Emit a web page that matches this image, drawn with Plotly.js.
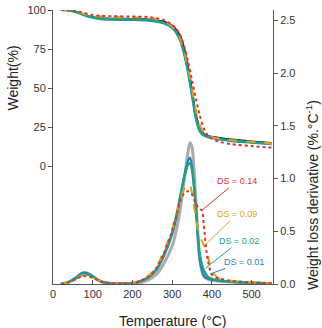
<!DOCTYPE html>
<html>
<head>
<meta charset="utf-8">
<script src="https://cdn.plot.ly/plotly-3.0.1.min.js"></script>
<style>
  html, body { margin: 0; padding: 0; background: #fff; }
  #chart { width: 322px; height: 328px; }
</style>
</head>
<body>
<div id="chart"></div>
<script>
// Thermogravimetric curves (weight %, left axis)
const tgaTemp = [20, 40, 60, 80, 100, 120, 150, 200, 240, 260, 280, 300, 310, 320, 330, 340, 350, 360, 370, 380, 390, 400, 420, 450, 500, 550];
const tgaNative = [100, 99.8, 98.7, 97, 95.5, 94.8, 94.5, 94.3, 94, 93.5, 92.5, 90, 87.5, 83.5, 76, 64, 49, 33, 24, 20.5, 19.3, 18.8, 18, 17, 15.8, 14.8];
const tgaDS001 = [100, 99.8, 98.5, 96.5, 95, 94.2, 93.8, 93.6, 93.2, 92.5, 91.3, 88.5, 85.5, 80.5, 72, 60, 45, 30, 22, 19.5, 18.5, 18, 17, 16, 15, 14];
const tgaDS002 = [100, 99.8, 98.6, 96.7, 95.2, 94.5, 94.2, 94, 93.6, 93, 91.8, 89, 86, 81.5, 73, 61, 46, 31, 23, 20, 19, 18.5, 17.5, 16.5, 15.3, 14.3];
const tgaDS009 = [100, 99.9, 99, 97.5, 96.3, 95.8, 95.5, 95.3, 95, 94.2, 92.8, 89.5, 86.5, 82, 74, 63, 50, 36, 26, 21.5, 19.5, 18.5, 17.5, 16.5, 15.5, 14.5];
const tgaDS014 = [100, 99.9, 99.2, 98, 96.8, 96.2, 96, 95.8, 95.5, 94.8, 93.5, 90.5, 88, 84, 77, 67, 55, 43, 32, 24, 19.5, 17.5, 15.5, 14, 12.8, 11.8];

// Derivative curves (%/°C, right axis)
const dtgTemp = [20, 40, 60, 70, 80, 90, 100, 120, 140, 160, 200, 220, 240, 260, 280, 300, 310, 320, 330, 340, 345, 350, 360, 370, 380, 390, 400, 420, 450, 500, 550];
const dtgNative = [0, 0.02, 0.06, 0.085, 0.095, 0.09, 0.07, 0.025, 0.008, 0.003, 0.005, 0.015, 0.04, 0.09, 0.2, 0.36, 0.5, 0.7, 0.97, 1.25, 1.34, 1.3, 0.78, 0.22, 0.07, 0.045, 0.035, 0.025, 0.018, 0.01, 0.005];
const dtgDS001 = [0, 0.02, 0.07, 0.1, 0.11, 0.1, 0.075, 0.025, 0.008, 0.003, 0.008, 0.025, 0.06, 0.13, 0.27, 0.47, 0.62, 0.82, 1.02, 1.17, 1.2, 1.12, 0.7, 0.22, 0.08, 0.05, 0.04, 0.03, 0.02, 0.012, 0.006];
const dtgDS002 = [0, 0.02, 0.06, 0.085, 0.095, 0.09, 0.07, 0.025, 0.008, 0.003, 0.008, 0.028, 0.065, 0.14, 0.29, 0.49, 0.64, 0.83, 1.0, 1.13, 1.15, 1.08, 0.72, 0.28, 0.13, 0.07, 0.05, 0.035, 0.022, 0.013, 0.006];
const dtgDS009 = [0, 0.018, 0.055, 0.075, 0.085, 0.08, 0.065, 0.025, 0.008, 0.003, 0.01, 0.03, 0.075, 0.16, 0.32, 0.52, 0.66, 0.8, 0.9, 0.95, 0.94, 0.86, 0.62, 0.45, 0.37, 0.27, 0.12, 0.05, 0.03, 0.015, 0.007];
const dtgDS014Temp = [20, 40, 60, 70, 80, 90, 100, 120, 140, 160, 200, 220, 240, 260, 280, 300, 310, 320, 330, 340, 350, 360, 370, 375, 380, 390, 400, 410, 420, 450, 500, 550];
const dtgDS014 = [0, 0.015, 0.05, 0.068, 0.075, 0.07, 0.06, 0.022, 0.008, 0.003, 0.01, 0.03, 0.07, 0.15, 0.3, 0.5, 0.64, 0.78, 0.86, 0.88, 0.85, 0.76, 0.71, 0.7, 0.55, 0.22, 0.09, 0.06, 0.05, 0.03, 0.015, 0.007];

// Sample labels and where their leader lines land on the derivative curves
const dsLabels = ['DS = 0.14', 'DS = 0.09', 'DS = 0.02', 'DS = 0.01'];
const dsPointT = [375, 383, 384, 395];
const dsPointV = [0.70, 0.37, 0.15, 0.095];

const colors = {
  native: '#ababab', nativeTga: '#1b1b1b',
  ds001: '#2a7fc6', ds002: '#1da47c', ds009: '#d6a42a', ds014: '#e2312c'
};

function line(x, y, color, width, dash, axis) {
  return {
    x: x, y: y, type: 'scatter', mode: 'lines', yaxis: axis,
    line: { color: color, width: width, dash: dash, shape: 'spline', smoothing: 0.8 },
    hoverinfo: 'skip', showlegend: false
  };
}

const traces = [
  line(tgaTemp, tgaNative, colors.nativeTga, 1.8, 'solid', 'y'),
  line(tgaTemp, tgaDS001, colors.ds001, 2.2, 'solid', 'y'),
  line(tgaTemp, tgaDS002, colors.ds002, 2.2, 'solid', 'y'),
  line(tgaTemp, tgaDS009, colors.ds009, 2, 'dash', 'y'),
  line(tgaTemp, tgaDS014, colors.ds014, 2, 'dot', 'y'),
  line(dtgTemp, dtgNative, colors.native, 3, 'solid', 'y2'),
  line(dtgTemp, dtgDS001, colors.ds001, 2.2, 'solid', 'y2'),
  line(dtgTemp, dtgDS002, colors.ds002, 2.2, 'solid', 'y2'),
  line(dtgTemp, dtgDS009, colors.ds009, 2, 'dash', 'y2'),
  line(dtgDS014Temp, dtgDS014, colors.ds014, 2, 'dot', 'y2')
];

const labelColors = [colors.ds014, colors.ds009, colors.ds002, colors.ds001];
const labelOffsets = [[35, -29], [32, -31], [34, -27], [34, -12]];

const annotations = dsLabels.map((t, i) => ({
  text: t, x: dsPointT[i], y: dsPointV[i], xref: 'x', yref: 'y2',
  showarrow: true, arrowhead: 0, arrowwidth: 1, arrowcolor: labelColors[i],
  ax: labelOffsets[i][0], ay: labelOffsets[i][1],
  font: { family: 'Liberation Sans, Arial, sans-serif', size: 9, color: labelColors[i] }
}));

const titleFont = { family: 'Liberation Sans, Arial, sans-serif', size: 14, color: '#222' };
annotations.push(
  { text: 'Weight(%)', xref: 'paper', yref: 'paper', x: 0, y: 0.75, xshift: -41,
    textangle: -90, showarrow: false, font: titleFont, xanchor: 'center', yanchor: 'middle' },
  { text: 'Weight loss derivative (%.°C<sup>-1</sup>)', xref: 'paper', yref: 'paper', x: 1, y: 0.325, xshift: 39,
    textangle: -90, showarrow: false, font: titleFont, xanchor: 'center', yanchor: 'middle' },
  { text: 'Temperature (°C)', xref: 'paper', yref: 'paper', x: 0.545, y: 0, yshift: -37,
    showarrow: false, font: titleFont, xanchor: 'center', yanchor: 'middle' }
);

const tickFont = { family: 'Liberation Sans, Arial, sans-serif', size: 11, color: '#333' };

const layout = {
  width: 322, height: 328,
  margin: { l: 53, r: 49, t: 10, b: 44 },
  paper_bgcolor: '#fff', plot_bgcolor: '#fff',
  showlegend: false,
  xaxis: {
    range: [0, 554], tickvals: [0, 100, 200, 300, 400, 500],
    ticks: 'inside', ticklen: 4, tickcolor: '#555',
    showline: true, linecolor: '#555', linewidth: 1,
    showgrid: false, zeroline: false, tickfont: tickFont
  },
  yaxis: {
    range: [-75.6, 100], tickvals: [0, 25, 50, 75, 100],
    ticks: 'outside', ticklen: 4, tickcolor: '#555',
    showline: true, linecolor: '#555', linewidth: 1,
    showgrid: false, zeroline: false, tickfont: tickFont
  },
  yaxis2: {
    range: [0, 2.6], tickvals: [0, 0.5, 1, 1.5, 2, 2.5], tickformat: '.1f',
    overlaying: 'y', side: 'right',
    ticks: 'outside', ticklen: 4, tickcolor: '#555',
    showline: true, linecolor: '#555', linewidth: 1,
    showgrid: false, zeroline: false, tickfont: tickFont
  },
  annotations: annotations
};

Plotly.newPlot('chart', traces, layout, { staticPlot: true, displayModeBar: false });
</script>
</body>
</html>
